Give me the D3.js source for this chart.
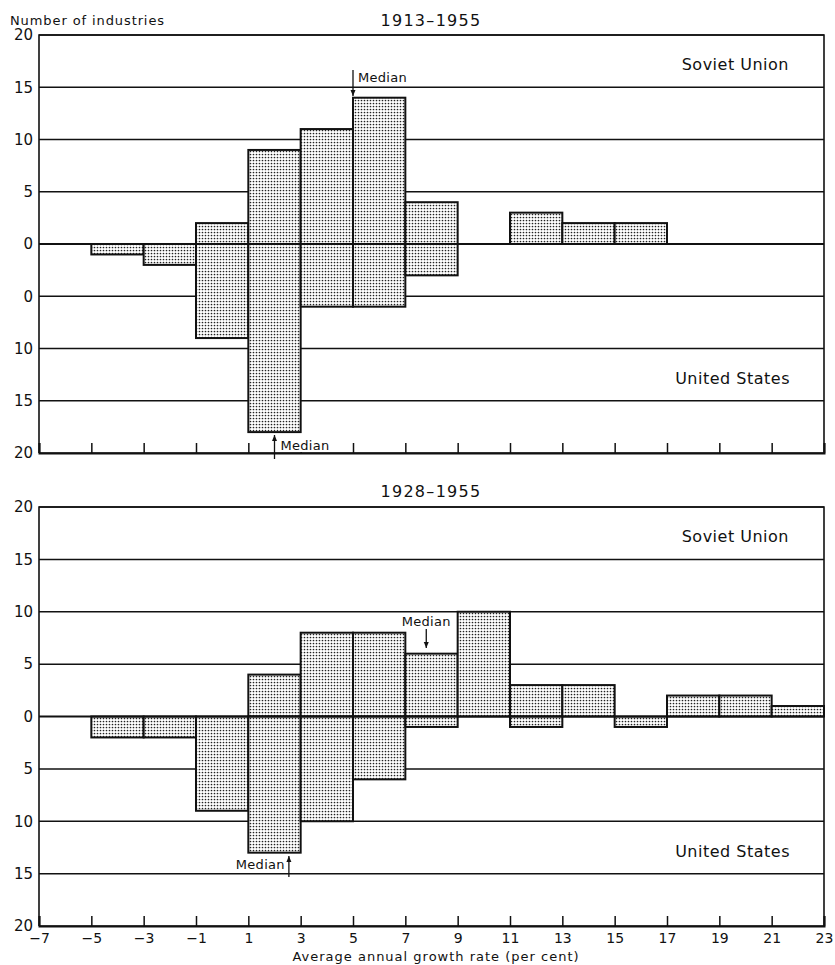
<!DOCTYPE html>
<html><head><meta charset="utf-8">
<script src="https://cdn.jsdelivr.net/npm/d3@7"></script>
<style>body{margin:0;background:#fff}svg{display:block}text{font-family:"DejaVu Sans","Liberation Sans",sans-serif;fill:#111}</style>
</head><body><div id="chart"></div>
<script>
// Data
const binStarts = [-7,-5,-3,-1,1,3,5,7,9,11,13,15,17,19,21];
const binWidth = 2;
const soviet1913 = [0,0,0,2,9,11,14,4,0,3,2,2,0,0,0];
const us1913     = [0,1,2,9,18,6,6,3,0,0,0,0,0,0,0];
const soviet1928 = [0,0,0,0,4,8,8,6,10,3,3,0,2,2,1];
const us1928     = [0,2,2,9,13,10,6,1,0,1,0,1,0,0,0];
const medianSoviet = [5, 7.8];
const medianUS = [2, 2.55];
const panelTitles = ["1913\u20131955", "1928\u20131955"];
const yTickValues = [20,15,10,5,0,-5,-10,-15,-20];
const yTickLabelsTop = ["20","15","10","5","0","0","10","15","20"];
const yTickLabelsBottom = ["20","15","10","5","0","5","10","15","20"];
const xTickValues = [-7,-5,-3,-1,1,3,5,7,9,11,13,15,17,19,21,23];
const xTickLabels = ["\u22127","\u22125","\u22123","\u22121","1","3","5","7","9","11","13","15","17","19","21","23"];

const W = 835, H = 965;
const svg = d3.select("#chart").append("svg").attr("width", W).attr("height", H);
const defs = svg.append("defs");
const pat = defs.append("pattern").attr("id","dots").attr("width",3).attr("height",3).attr("patternUnits","userSpaceOnUse");
pat.append("rect").attr("width",3).attr("height",3).attr("fill","#fff");
pat.append("circle").attr("cx",1.5).attr("cy",1.5).attr("r",0.85).attr("fill","#222");

const x = d3.scaleLinear().domain([-7,23]).range([39,824]);

const panels = [
  {top:35, bottom:453, sov:soviet1913, us:us1913, labels:yTickLabelsTop, title:panelTitles[0], titleY:26, medS:medianSoviet[0], medU:medianUS[0], showX:false},
  {top:507, bottom:926, sov:soviet1928, us:us1928, labels:yTickLabelsBottom, title:panelTitles[1], titleY:497, medS:medianSoviet[1], medU:medianUS[1], showX:true}
];

function arrow(g, xp, y1, y2) {
  g.append("line").attr("x1",xp).attr("x2",xp).attr("y1",y1).attr("y2",y2).attr("stroke","#111").attr("stroke-width",1.3);
  const dir = y2 > y1 ? 1 : -1;
  g.append("path").attr("d",`M${xp-2.5},${y2-dir*6}L${xp+2.5},${y2-dir*6}L${xp},${y2}Z`).attr("fill","#111");
}
function medianText(g, xp, yp, anchor) {
  const t = g.append("text").attr("x", xp).attr("y", yp).attr("text-anchor", anchor)
    .attr("font-size",13).attr("letter-spacing",0.3).text("Median");
  const bb = t.node().getBBox();
  g.insert("rect", function(){ return t.node(); })
    .attr("x", bb.x-1).attr("y", bb.y+2).attr("width", bb.width+2).attr("height", bb.height-3).attr("fill","#fff");
}

panels.forEach((p, pi) => {
  const y = d3.scaleLinear().domain([-20,20]).range([p.bottom, p.top]);
  const g = svg.append("g");

  // gridlines
  g.selectAll("line.grid").data(yTickValues.filter(v => v!==0)).enter().append("line")
    .attr("x1", x(-7)).attr("x2", x(23)).attr("y1", d=>y(d)).attr("y2", d=>y(d))
    .attr("stroke","#111").attr("stroke-width",1.5);

  // bars
  const bars = binStarts.map((b,i)=>({b, s:p.sov[i], u:p.us[i]}));
  g.selectAll("rect.sov").data(bars.filter(d=>d.s>0)).enter().append("rect")
    .attr("x", d=>x(d.b)).attr("width", d=>x(d.b+binWidth)-x(d.b))
    .attr("y", d=>y(d.s)).attr("height", d=>y(0)-y(d.s))
    .attr("fill","url(#dots)").attr("stroke","#111").attr("stroke-width",2);
  g.selectAll("rect.us").data(bars.filter(d=>d.u>0)).enter().append("rect")
    .attr("x", d=>x(d.b)).attr("width", d=>x(d.b+binWidth)-x(d.b))
    .attr("y", y(0)).attr("height", d=>y(-d.u)-y(0))
    .attr("fill","url(#dots)").attr("stroke","#111").attr("stroke-width",2);

  // zero line
  g.append("line").attr("x1",x(-7)).attr("x2",x(23)).attr("y1",y(0)).attr("y2",y(0)).attr("stroke","#111").attr("stroke-width",2.2);

  // frame
  g.append("path").attr("d",`M${x(-7)},${p.bottom}V${p.top}H${x(23)}V${p.bottom}`).attr("fill","none").attr("stroke","#111").attr("stroke-width",1.6);

  // y axis labels
  const yAxis = d3.axisLeft(y).tickValues(yTickValues).tickSize(0).tickPadding(6)
    .tickFormat((d,i)=>p.labels[i]);
  const ya = g.append("g").attr("transform",`translate(${x(-7)},0)`).call(yAxis);
  ya.select(".domain").remove();
  ya.selectAll("text").attr("font-size",15).attr("font-family","DejaVu Sans, sans-serif").attr("fill","#111");

  // x axis with inward ticks
  const xAxis = d3.axisBottom(x).tickValues(xTickValues).tickSize(-10).tickPadding(7)
    .tickFormat((d,i)=> p.showX ? xTickLabels[i] : "");
  const xa = g.append("g").attr("transform",`translate(0,${p.bottom})`).call(xAxis);
  xa.select(".domain").attr("stroke","#111").attr("stroke-width",2);
  xa.selectAll(".tick line").attr("stroke","#111").attr("stroke-width",1.5);
  xa.selectAll("text").attr("font-size",14).attr("font-family","DejaVu Sans, sans-serif").attr("fill","#111");

  // panel title
  g.append("text").attr("x",431).attr("y",p.titleY).attr("text-anchor","middle").attr("font-size",16).attr("letter-spacing",1.3).text(p.title);
  // country labels
  g.append("text").attr("x",789).attr("y",y(17.2)+6).attr("text-anchor","end").attr("font-size",16).attr("letter-spacing",0.5).text("Soviet Union");
  g.append("text").attr("x",790).attr("y",y(-12.8)+6).attr("text-anchor","end").attr("font-size",16).attr("letter-spacing",0.5).text("United States");

  // medians
  if (pi === 0) {
    const xs = x(p.medS);
    arrow(g, xs, 70, 96);
    medianText(g, xs+5, 82, "start");
    const xu = x(p.medU);
    medianText(g, xu+6, 450, "start");
    arrow(g, xu, 459, 435);
  } else {
    const xs = x(p.medS);
    medianText(g, xs, 626, "middle");
    arrow(g, xs, 629, 648);
    const xu = x(p.medU);
    medianText(g, xu-4, 869, "end");
    arrow(g, xu, 877, 856);
  }
});

svg.append("text").attr("x",10).attr("y",25).attr("font-size",13).attr("letter-spacing",0.9).text("Number of industries");
svg.append("text").attr("x",436).attr("y",961).attr("text-anchor","middle").attr("font-size",13).attr("letter-spacing",1).text("Average annual growth rate (per cent)");
</script></body></html>
